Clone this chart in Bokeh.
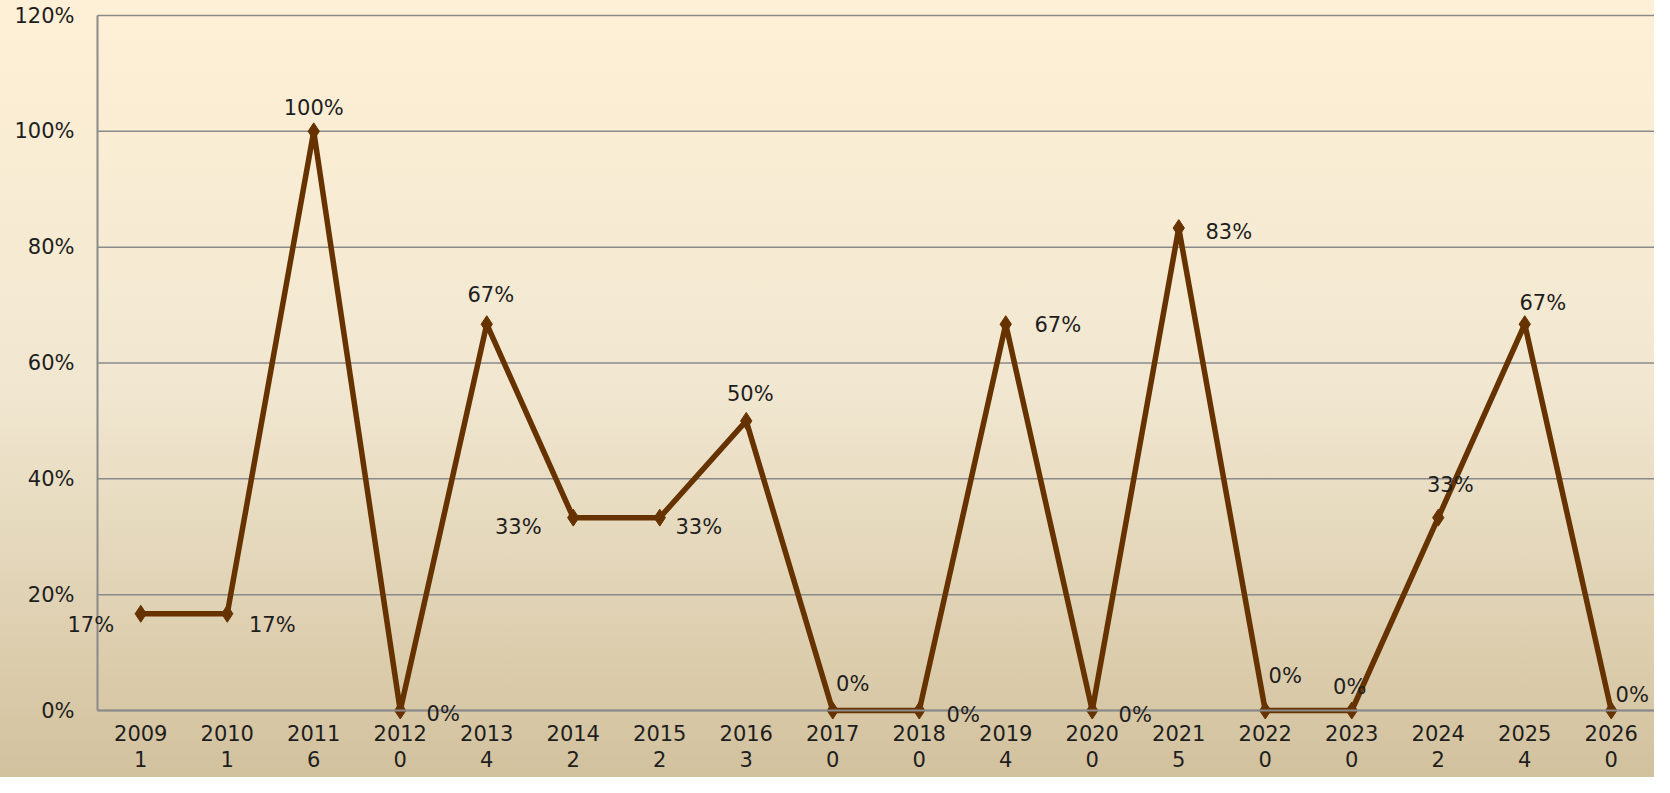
from bokeh.plotting import figure
from bokeh.models import ColumnDataSource, LabelSet, FixedTicker, NumeralTickFormatter, Range1d
from bokeh.core.properties import value
from bokeh.embed import file_html
from bokeh.resources import INLINE

years = ["2009", "2010", "2011", "2012", "2013", "2014", "2015", "2016", "2017",
         "2018", "2019", "2020", "2021", "2022", "2023", "2024", "2025", "2026"]
counts = [1, 1, 6, 0, 4, 2, 2, 3, 0, 0, 4, 0, 5, 0, 0, 2, 4, 0]
shares = [0.167, 0.167, 1.0, 0.0, 0.667, 0.333, 0.333, 0.5, 0.0,
          0.0, 0.667, 0.0, 0.833, 0.0, 0.0, 0.333, 0.667, 0.0]
y_ticks = [0.0, 0.2, 0.4, 0.6, 0.8, 1.0, 1.2]

# label placement (screen px): horizontal shift, vertical shift (up positive)
lab_dx = [-50, 45, 0, 43, 4, -55, 39, 4, 20, 44, 52, 43, 50, 20, -2, 12, 18, 21]
lab_dy = [-11, -11, 23, -3, 29, -9, -9, 27, 27, -4, -1, -4, -4, 35, 24, 33, 21, 16]

FONT = "DejaVu Sans"
FS = "21px"
TXT = "#1e1e1e"
BROWN = "#663300"
GRID = "#8a8a8a"

# layout (px) of the plotting area inside the figure
W, H = 1654, 777
L, R, T, B = 97, 1654, 15, 710
n = len(years)
Y_MAX = 1.2

x_start, x_end = -0.5, n - 0.5
px_per_x = (R - L) / n
px_per_y = (B - T) / Y_MAX
x_range = Range1d(x_start - L / px_per_x, x_end + (W - R) / px_per_x)
y_range = Range1d(-(H - B) / px_per_y, Y_MAX + T / px_per_y)

xs = list(range(n))
src = ColumnDataSource(dict(
    x=xs, y=shares,
    lab=[f"{round(v * 100)}%" for v in shares],
    dx=lab_dx, dy=lab_dy,
))
grid_src = ColumnDataSource(dict(
    x0=[x_start] * len(y_ticks), x1=[x_end] * len(y_ticks), y=y_ticks,
))

p = figure(width=W, height=H, output_backend="svg", toolbar_location=None,
           x_range=x_range, y_range=y_range,
           min_border=0, min_border_left=0, min_border_right=0,
           min_border_top=0, min_border_bottom=0)
p.styles = {"background": "linear-gradient(180deg, #FEF0D6 0%, #F1E7D0 50%, #D2C19D 100%)"}
p.background_fill_color = None
p.border_fill_color = None
p.outline_line_color = None
p.xgrid.grid_line_color = None
p.ygrid.grid_line_color = None

# horizontal gridlines across the plotting area
p.segment(x0="x0", x1="x1", y0="y", y1="y", source=grid_src,
          line_color=GRID, line_width=1.5)

p.line("x", "y", source=src, line_color=BROWN, line_width=5.5, line_join="round")
p.scatter("x", "y", source=src, marker="diamond", size=17, fill_color=BROWN, line_color=BROWN)

labels = LabelSet(x="x", y="y", text="lab", source=src, x_offset="dx", y_offset="dy",
                  text_align="center", text_baseline="middle",
                  text_font=value(FONT), text_font_size=value(FS), text_color=TXT)
p.add_layout(labels)

# y axis, pinned to the left edge of the plotting area
p.yaxis.fixed_location = x_start
p.yaxis.bounds = (0, Y_MAX)
p.yaxis.ticker = FixedTicker(ticks=y_ticks)
p.yaxis.formatter = NumeralTickFormatter(format="0%")
p.yaxis.major_tick_line_color = None
p.yaxis.minor_tick_line_color = None
p.yaxis.major_label_standoff = 17
p.yaxis.axis_line_color = GRID
p.yaxis.axis_line_width = 2

# x axis, pinned to zero
p.xaxis.fixed_location = 0
p.xaxis.bounds = (x_start, x_end)
p.xaxis.ticker = FixedTicker(ticks=xs)
p.xaxis.major_label_overrides = {i: f"{y}\n{c}" for i, (y, c) in enumerate(zip(years, counts))}
p.xaxis.major_tick_line_color = None
p.xaxis.minor_tick_line_color = None
p.xaxis.major_label_standoff = 5
p.xaxis.major_label_text_line_height = 1.1
p.xaxis.axis_line_color = GRID
p.xaxis.axis_line_width = 2

for ax in (p.xaxis, p.yaxis):
    ax.major_label_text_font = FONT
    ax.major_label_text_font_size = FS
    ax.major_label_text_color = TXT

open("out.html", "w").write(file_html(p, INLINE))
